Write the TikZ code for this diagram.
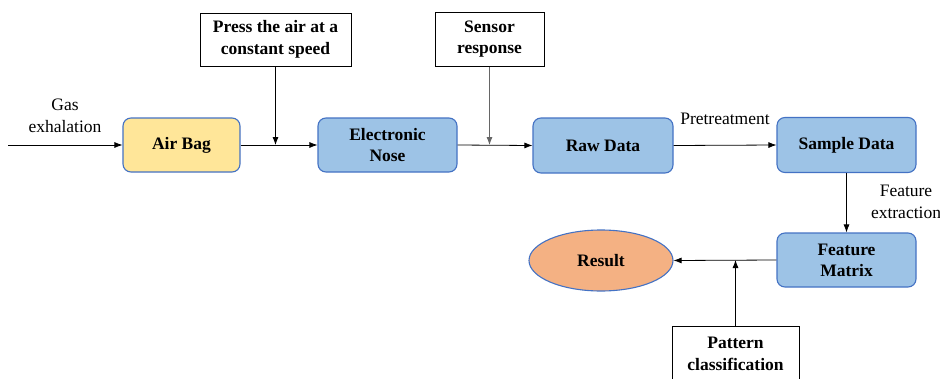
\documentclass[tikz,border=0pt]{standalone}
\usepackage{fontspec}
\setmainfont{Liberation Serif}
\usetikzlibrary{arrows.meta,shapes.geometric}
\definecolor{bfill}{HTML}{9DC3E6}
\definecolor{yfill}{HTML}{FFE699}
\definecolor{ofill}{HTML}{F4B183}
\definecolor{edge}{HTML}{4472C4}
\tikzset{
  x=1pt,y=-1pt,
  proc/.style={draw=edge,line width=1.1pt,rounded corners=8pt,align=center,inner sep=0pt,
    font=\fontsize{17.5}{21}\selectfont\bfseries,fill=bfill},
  note/.style={draw=black,line width=1pt,align=center,inner sep=0pt,
    font=\fontsize{17.5}{21.5}\selectfont\bfseries,fill=white},
  lbl/.style={align=center,inner sep=0pt,font=\fontsize{17.5}{22}\selectfont},
  conn/.style={line width=0.8pt,-{Latex[length=8pt,width=6pt]}},
  plain/.style={line width=0.8pt}
}
\begin{document}
\begin{tikzpicture}
\useasboundingbox (0,0) rectangle (940,378);
\clip (0,0) rectangle (940,378);
\fill[white] (0,0) rectangle (940,378);
\node[proc,fill=yfill,minimum width=117pt,minimum height=54pt] (airbag) at (181.5,145) {Air Bag};
\node[proc,minimum width=139pt,minimum height=54pt] (enose) at (387.5,145) {Electronic\\Nose};
\node[proc,minimum width=140pt,minimum height=55pt] (raw) at (603,145.5) {Raw Data};
\node[proc,minimum width=139pt,minimum height=55pt] (sample) at (846.5,145) {Sample Data};
\node[proc,minimum width=139pt,minimum height=54pt] (fmatrix) at (846.5,260) {Feature\\Matrix};
\node[ellipse,draw=edge,line width=1.1pt,fill=ofill,minimum width=144pt,minimum height=61pt,inner sep=0pt,
  font=\fontsize{17.5}{21}\selectfont\bfseries] (result) at (601,260.5) {Result};
\node[note,minimum width=151pt,minimum height=53pt] (press) at (275.5,39.5) {Press the air at a\\constant speed};
\node[note,minimum width=109pt,minimum height=54pt] (sensor) at (489.5,39) {Sensor\\response};
\node[note,minimum width=127pt,minimum height=56pt] (pattern) at (735.5,354) {Pattern\\classification};
\node[lbl] (gaslbl) at (65,116) {Gas\\exhalation};
\node[lbl] (prelbl) at (725,119) {Pretreatment};
\node[lbl] (featlbl) at (906,202) {Feature\\extraction};
\coordinate (gasin) at (8,145);
\coordinate (j1) at (press.south |- airbag.east);
\coordinate (j2) at (sensor.south |- enose.east);
\coordinate (j3) at (pattern.north |- fmatrix.west);
\draw[conn] (gasin) -- (airbag.west);
\draw[conn] (airbag.east) -- (enose.west);
\draw[conn] (press.south) -- (j1);
\draw[conn] (enose.east) -- (raw.west);
\draw[conn,draw=black!60] (sensor.south) -- (j2);
\draw[conn] (raw.east) -- (sample.west);
\draw[conn] (sample.south) -- (fmatrix.north);
\draw[conn] (fmatrix.west) -- (result.east);
\draw[conn] (pattern.north) -- (j3);
\end{tikzpicture}
\end{document}
